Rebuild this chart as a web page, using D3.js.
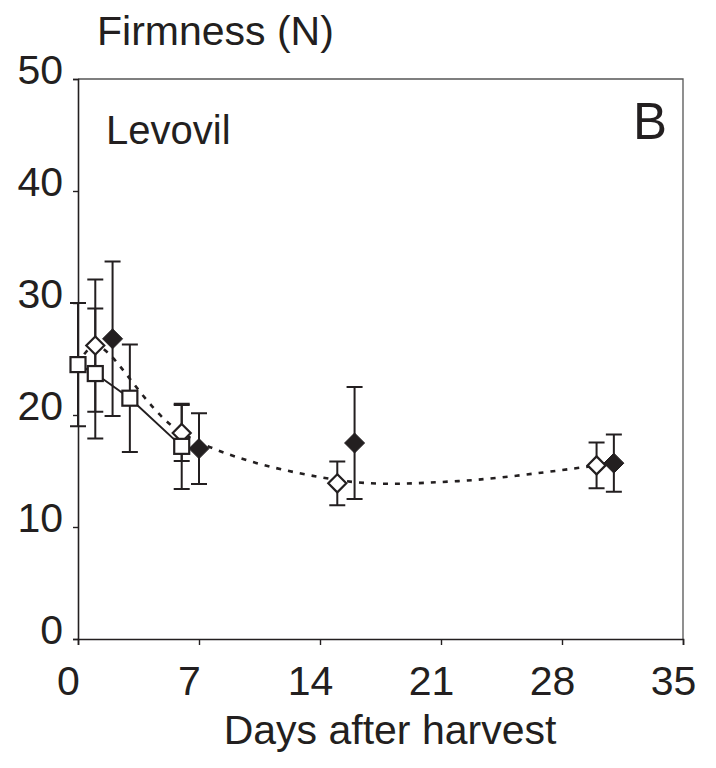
<!DOCTYPE html>
<html>
<head>
<meta charset="utf-8">
<script src="https://cdn.jsdelivr.net/npm/d3@7"></script>
<style>
  html, body { margin: 0; padding: 0; background: #fff; }
  text { font-family: "Liberation Sans", Arial, Helvetica, sans-serif; fill: #231f20; }
</style>
</head>
<body>
<svg id="chart" width="716" height="768"></svg>
<script>
// ---- data ----
const xTicks = [0, 7, 14, 21, 28, 35];
const yTicks = [0, 10, 20, 30, 40, 50];

// open squares (solid line)
const squareDays = [0, 1, 3, 6];
const squareVals = [24.5, 23.7, 21.5, 17.2];
const squareErr  = [5.5, 5.8, 4.8, 3.8];

// open diamonds
const openDays = [1, 6, 15, 30];
const openVals = [26.2, 18.4, 13.9, 15.5];
const openErr  = [5.9, 2.5, 1.95, 2.05];

// filled diamonds (no line)
const filledDays = [2, 7, 16, 31];
const filledVals = [26.8, 17.0, 17.5, 15.7];
const filledErr  = [6.9, 3.15, 5.0, 2.55];

// smoothed dotted trend line
const trendDays = [0, 1, 6, 15, 22, 30];
const trendVals = [24.5, 26.2, 18.4, 14.2, 14.1, 15.5];

const titleText = "Firmness (N)";
const xLabelText = "Days after harvest";
const cultivarText = "Levovil";
const panelText = "B";

// ---- layout ----
const svg = d3.select("#chart");
const x = d3.scaleLinear().domain([0, 35]).range([78, 683]);
const y = d3.scaleLinear().domain([0, 50]).range([639, 79]);
const ink = "#231f20";

const zip = (d, v, e) => d.map((day, i) => ({day, val: v[i], err: e ? e[i] : 0}));
const squares = zip(squareDays, squareVals, squareErr);
const opens = zip(openDays, openVals, openErr);
const filled = zip(filledDays, filledVals, filledErr);
const trend = zip(trendDays, trendVals);

// frame (top & right)
svg.append("path")
  .attr("d", `M${x(0)},${y(50)}H${x(35)}V${y(0)}`)
  .attr("fill", "none").attr("stroke", "#555").attr("stroke-width", 1.3);

// axes
const yAxis = d3.axisLeft(y).tickValues(yTicks).tickSize(5).tickPadding(10);
const gy = svg.append("g").attr("transform", `translate(${x(0)},0)`).call(yAxis);
gy.select(".domain").attr("stroke", ink).attr("stroke-width", 1.6);
gy.selectAll(".tick line").attr("stroke", ink).attr("stroke-width", 1.4);
gy.selectAll(".tick text").attr("font-size", 41).attr("dy", "0.12em")
  .attr("font-family", "Liberation Sans, Arial, sans-serif").attr("fill", ink);

const xAxis = d3.axisBottom(x).tickValues(xTicks).tickSize(6).tickPadding(10);
const gx = svg.append("g").attr("transform", `translate(0,${y(0)})`).call(xAxis);
gx.select(".domain").attr("stroke", ink).attr("stroke-width", 1.6);
gx.selectAll(".tick line").attr("stroke", ink).attr("stroke-width", 1.4);
gx.selectAll(".tick text").attr("font-size", 41).attr("y", 56).attr("dy", 0)
  .attr("dx", -10)
  .attr("font-family", "Liberation Sans, Arial, sans-serif").attr("fill", ink);

// error bars
const capW = 8;
function errorBars(data) {
  const g = svg.append("g").attr("stroke", ink).attr("stroke-width", 2).attr("fill", "none");
  data.forEach(d => {
    const cx = x(d.day), top = y(d.val + d.err), bot = y(d.val - d.err);
    g.append("path").attr("d", `M${cx},${top}V${bot}M${cx - capW},${top}H${cx + capW}M${cx - capW},${bot}H${cx + capW}`);
  });
}
errorBars(squares);
errorBars(opens);
errorBars(filled);

// lines
svg.append("path").datum(trend)
  .attr("d", d3.line().x(d => x(d.day)).y(d => y(d.val)).curve(d3.curveCatmullRom.alpha(0.5)))
  .attr("fill", "none").attr("stroke", ink).attr("stroke-width", 2.6)
  .attr("stroke-dasharray", "5,7");

svg.append("path").datum(squares)
  .attr("d", d3.line().x(d => x(d.day)).y(d => y(d.val)))
  .attr("fill", "none").attr("stroke", ink).attr("stroke-width", 2);

// markers
const diamond = r => `M0,${-r}L${r},0L0,${r}L${-r},0Z`;
svg.append("g").selectAll("path").data(opens).join("path")
  .attr("transform", d => `translate(${x(d.day)},${y(d.val)})`)
  .attr("d", diamond(9)).attr("fill", "#fff").attr("stroke", ink).attr("stroke-width", 2.2);

svg.append("g").selectAll("path").data(filled).join("path")
  .attr("transform", d => `translate(${x(d.day)},${y(d.val)})`)
  .attr("d", diamond(10)).attr("fill", ink).attr("stroke", ink).attr("stroke-width", 1);

svg.append("g").selectAll("rect").data(squares).join("rect")
  .attr("x", d => x(d.day) - 7.5).attr("y", d => y(d.val) - 7.5)
  .attr("width", 15).attr("height", 15)
  .attr("fill", "#fff").attr("stroke", ink).attr("stroke-width", 2.2);

// texts
svg.append("text").attr("x", 97).attr("y", 45).attr("font-size", 41).text(titleText);
svg.append("text").attr("x", 106).attr("y", 144).attr("font-size", 40).text(cultivarText);
svg.append("text").attr("x", 633).attr("y", 139).attr("font-size", 51).text(panelText);
svg.append("text").attr("x", 390).attr("y", 744).attr("text-anchor", "middle")
  .attr("font-size", 41).text(xLabelText);
</script>
</body>
</html>
